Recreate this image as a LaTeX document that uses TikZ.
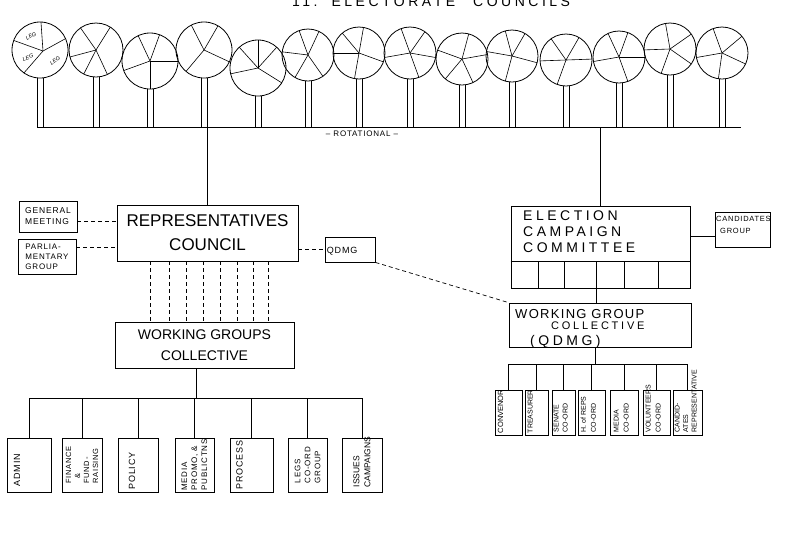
\documentclass[tikz,border=0pt]{standalone}
\usepackage{fontspec}
\setmainfont{Liberation Sans}
\newfontfamily\wide[LetterSpace=10]{Liberation Sans}
\newfontfamily\wider[LetterSpace=25]{Liberation Sans}
\newcommand\elecTree[4]{%
  \draw[ln] (#1,#2) circle[radius=#3];
  \foreach \a in {#4}{\draw[line width=0.6pt] (#1,#2) -- ++(\a:#3);}
  \draw[ln] ({#1-3},{#2+#3}) -- ({#1-3},127);
  \draw[ln] ({#1+3},{#2+#3}) -- ({#1+3},127);
}
\begin{document}
\begin{tikzpicture}[x=1pt,y=-1pt,
  ln/.style={line width=0.8pt},
  box/.style={draw,line width=0.8pt,inner sep=0pt},
  dsh/.style={line width=0.7pt,dash pattern=on 4pt off 3pt},
  rtxt/.style={rotate=90,anchor=north west,align=left,inner sep=0pt},
  ctxt/.style={rotate=90,anchor=center,align=left,inner sep=0pt},
  lbl/.style={inner sep=0pt},
  legtxt/.style={inner sep=0pt,font=\itshape\fontsize{5.5}{6}\selectfont}]
\useasboundingbox (0,0) rectangle (799,558);

% title (cut off at the top edge, as in the reference)
\node[lbl,anchor=base west,font=\wider\fontsize{14}{14}\selectfont] (title) at (292,6.5) {11.\hspace{14pt}ELECTORATE\hspace{18pt}COUNCILS};

% electorate councils (trees)
\draw[ln] (40,50) circle[radius=28];
\coordinate (j1) at (43,51);
\foreach \a in {-88,-160,125,-24}{\draw[line width=0.6pt] (j1) -- ([shift={(\a:28)}]40,50);}
\draw[ln] (37,{50+28}) -- (37,127);
\draw[ln] (43,{50+28}) -- (43,127);
\node[legtxt,rotate=30] (leg1) at (31,36) {LEG};
\node[legtxt,rotate=20] (leg2) at (28,57.5) {LEG};
\node[legtxt,rotate=35] (leg3) at (55,61) {LEG};

\elecTree{96}{50}{27}{-125,-58,165,117,65}
\elecTree{150}{61}{28}{-115,-70,90,160,0}
\elecTree{204}{50}{28}{-117,-60,25,130}
\elecTree{258}{68}{28}{-90,-132,-48,168,32}
\elecTree{308}{55}{26}{-110,-65,-173,120,55}
\elecTree{359}{53}{26}{-130,-80,180,20,100}
\elecTree{410}{53}{26}{-110,-55,10,170,70}
\elecTree{462}{59}{26}{-75,-160,-10,130,65}
\elecTree{512}{56}{26}{-105,-60,-170,15,105}
\elecTree{566}{60}{26}{-125,-60,178,-2,110}
\elecTree{619}{57}{26}{-115,-70,170,0,70}
\elecTree{670}{49}{26}{-100,-35,178,110,35}
\elecTree{722}{53}{26}{-110,-40,170,98,25}

\coordinate (base) at (0,127);
\draw[ln] (37,127) -- (741,127);
\node[lbl,font=\wide\fontsize{8}{8}\selectfont] (rot) at (362,134) {\textendash\ ROTATIONAL \textendash};

% left side
\node[box,minimum width=181,minimum height=56,align=center,font=\fontsize{17}{24}\selectfont] (rc) at (207.5,233) {REPRESENTATIVES\\COUNCIL};
\node[box,minimum width=58,minimum height=31,align=left,font=\wide\fontsize{8.5}{11}\selectfont] (gm) at (48,216.5) {GENERAL\\MEETING};
\node[box,minimum width=58,minimum height=35,align=left,font=\wide\fontsize{8}{10}\selectfont] (pg) at (47,256.5) {PARLIA-\\MENTARY\\GROUP};
\node[box,minimum width=50,minimum height=25] (qdmg) at (350,249.5) {};
\node[lbl,anchor=west,font=\wide\fontsize{9}{9}\selectfont] (qdmgT) at ([xshift=2pt,yshift=-2pt]qdmg.west) {QDMG};
\node[box,minimum width=179,minimum height=46,align=center,font=\fontsize{14}{21}\selectfont] (wgc) at (204.5,345) {WORKING GROUPS\\COLLECTIVE};

\draw[ln] (rc.north) -- (rc.north |- base);
\draw[dsh] (gm.east |- 0,221) -- (rc.west |- 0,221);
\draw[dsh] (pg.east |- 0,247) -- (rc.west |- 0,247);
\draw[dsh] (rc.east |- qdmg.west) -- (qdmg.west);
\foreach \x in {150,169,186,203,220,237,253,268}{\draw[dsh] (\x,0 |- rc.south) -- (\x,0 |- wgc.north);}

% left working groups
\coordinate (busL) at (0,398);
\node[box,minimum width=44,minimum height=54] (admin) at (29,465) {};
\node[box,minimum width=40,minimum height=54] (fin) at (82,465) {};
\node[box,minimum width=40,minimum height=54] (pol) at (138,465) {};
\node[box,minimum width=39,minimum height=54] (med) at (194.5,465) {};
\node[box,minimum width=43,minimum height=54] (proc) at (251.5,465) {};
\node[box,minimum width=39,minimum height=54] (legs) at (307.5,465) {};
\node[box,minimum width=40,minimum height=54] (iss) at (362,465) {};
\node[ctxt,font=\wide\fontsize{9}{10}\selectfont] (adminT) at ([xshift=-12pt,yshift=-5pt]admin.center) {ADMIN};
\node[ctxt,font=\wide\fontsize{7.5}{9}\selectfont] (finT) at (fin.center) {FINANCE\\\ \ \&\\FUND-\\RAISING};
\node[ctxt,font=\wide\fontsize{9}{10}\selectfont] (polT) at ([xshift=-6pt,yshift=-6pt]pol.center) {POLICY};
\node[ctxt,font=\wide\fontsize{8}{10}\selectfont] (medT) at (med.center) {MEDIA\\PROMO, \&\\PUBLICTNS};
\node[ctxt,font=\wide\fontsize{9}{10}\selectfont] (procT) at ([xshift=-12pt]proc.center) {PROCESS};
\node[ctxt,font=\wide\fontsize{8}{10}\selectfont] (legsT) at (legs.center) {LEGS\\CO-ORD\\GROUP};
\node[ctxt,font=\fontsize{8.5}{11}\selectfont] (issT) at ([yshift=3pt]iss.center) {ISSUES\\CAMPAIGNS};

\draw[ln] ([xshift=-8pt]wgc.south) -- ([xshift=-8pt]wgc.south |- busL);
\draw[ln] (admin.north |- busL) -- (iss.north |- busL);
\foreach \n in {admin,fin,pol,med,proc,legs,iss}{\draw[ln] (\n.north) -- (\n.north |- busL);}

% right side
\node[box,minimum width=179,minimum height=82] (ecc) at (600.5,247) {};
\node[lbl,anchor=north west,align=left,font=\wider\fontsize{14}{16}\selectfont] (eccT) at (523,211) {ELECTION\\CAMPAIGN\\COMMITTEE};
\draw[ln] (ecc.west |- 0,261) -- (ecc.east |- 0,261);
\foreach \x in {538,564,596,624,658}{\draw[ln] (\x,261) -- (\x,0 |- ecc.south);}
\node[box,minimum width=55,minimum height=35] (cg) at (742.5,229.5) {};
\node[lbl,anchor=north west,align=left,font=\wide\fontsize{7.5}{12}\selectfont] (cgT) at (716,216) {CANDIDATES\\\hspace{4pt}GROUP};
\node[box,minimum width=182,minimum height=44] (wgcq) at (600,325) {};
\node[lbl,anchor=base west,font=\wide\fontsize{13}{13}\selectfont] (wgcqT1) at (515,318) {WORKING GROUP};
\node[lbl,anchor=base west,font=\wider\fontsize{11}{11}\selectfont] (wgcqT2) at (551,329) {COLLECTIVE};
\node[lbl,anchor=base west,font=\wider\fontsize{14}{14}\selectfont] (wgcqT3) at (530,345) {(QDMG)};

\draw[ln] (ecc.north) -- (ecc.north |- base);
\draw[ln] (ecc.east |- 0,236) -- (cg.west |- 0,236);
\draw[ln] (596,0 |- ecc.south) -- (596,0 |- wgcq.north);
\draw[dsh] (qdmg.south east) -- (wgcq.north west);

% right working groups
\coordinate (busR) at (0,364);
\node[box,minimum width=27,minimum height=45] (conv) at (508.5,412.5) {};
\node[box,minimum width=23,minimum height=45] (treas) at (536.5,412.5) {};
\node[box,minimum width=23,minimum height=45] (sen) at (563.5,412.5) {};
\node[box,minimum width=27,minimum height=45] (hrep) at (591.5,412.5) {};
\node[box,minimum width=28,minimum height=45] (medc) at (624,412.5) {};
\node[box,minimum width=27,minimum height=45] (vol) at (656.5,412.5) {};
\node[box,minimum width=29,minimum height=45] (cand) at (687.5,412.5) {};
\node[rtxt,font=\fontsize{7.5}{8}\selectfont] (convT) at ([xshift=3pt,yshift=2pt]conv.south west) {CONVENOR};
\node[rtxt,font=\fontsize{7}{8}\selectfont] (treasT) at ([xshift=3pt,yshift=2pt]treas.south west) {TREASURER};
\node[rtxt,font=\fontsize{7}{9}\selectfont] (senT) at ([xshift=2pt,yshift=3pt]sen.south west) {SENATE\\CO-ORD};
\node[rtxt,font=\fontsize{7}{10}\selectfont] (hrepT) at ([xshift=3pt,yshift=3pt]hrep.south west) {H. of REPS\\CO-ORD};
\node[rtxt,font=\fontsize{7}{10}\selectfont] (medcT) at ([xshift=4pt,yshift=3pt]medc.south west) {MEDIA\\CO-ORD};
\node[rtxt,font=\fontsize{7}{10}\selectfont] (volT) at ([xshift=3pt,yshift=3pt]vol.south west) {VOLUNTEERS\\CO-ORD};
\node[rtxt,font=\fontsize{7}{8.5}\selectfont] (candT) at ([xshift=2pt,yshift=3pt]cand.south west) {CANDID-\\ATES\\REPRESENTATIVE};

\draw[ln] ([xshift=-5pt]wgcq.south) -- ([xshift=-5pt]wgcq.south |- busR);
\draw[ln] (conv.north |- busR) -- (cand.north |- busR);
\foreach \n in {conv,treas,sen,hrep,medc,vol,cand}{\draw[ln] (\n.north) -- (\n.north |- busR);}
\end{tikzpicture}
\end{document}
